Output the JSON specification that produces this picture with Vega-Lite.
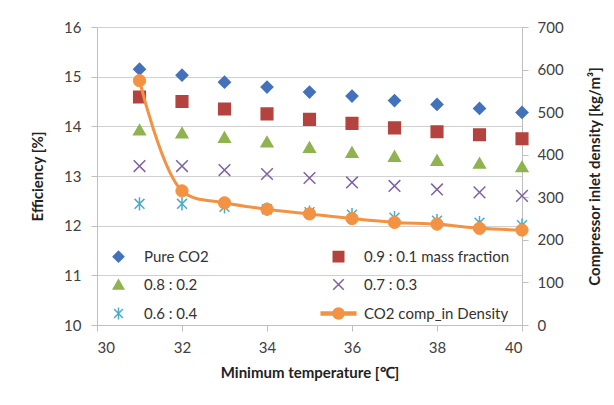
{
  "$schema": "https://vega.github.io/schema/vega-lite/v6.json",
  "width": 425,
  "height": 298,
  "autosize": {"type": "none"},
  "padding": {"left": 97, "top": 27, "right": 92, "bottom": 80},
  "background": "white",
  "config": {
    "font": "Lato",
    "view": {"stroke": null},
    "axis": {
      "labelFont": "Lato",
      "labelFontSize": 15,
      "labelColor": "#404040",
      "titleFont": "Lato",
      "titleFontSize": 15,
      "titleFontWeight": "bold",
      "titleColor": "#222222",
      "domainColor": "#bfbfbf",
      "tickColor": "#bfbfbf",
      "gridColor": "#d0d0d0",
      "tickSize": 6,
      "labelPadding": 9
    },
    "legend": {
      "orient": "none",
      "direction": "horizontal",
      "legendX": 14,
      "legendY": 222,
      "columns": 2,
      "padding": 0,
      "symbolSize": 110,
      "symbolStrokeWidth": 1.5,
      "labelFont": "Lato",
      "labelFontSize": 15,
      "labelColor": "#333333",
      "labelOffset": 18,
      "columnPadding": 109,
      "rowPadding": 11
    }
  },
  "datasets": {
    "eff": [
      {"T": 31, "series": "Pure CO2", "eff": 15.15},
      {"T": 32, "series": "Pure CO2", "eff": 15.03},
      {"T": 33, "series": "Pure CO2", "eff": 14.89},
      {"T": 34, "series": "Pure CO2", "eff": 14.79},
      {"T": 35, "series": "Pure CO2", "eff": 14.69},
      {"T": 36, "series": "Pure CO2", "eff": 14.61},
      {"T": 37, "series": "Pure CO2", "eff": 14.52},
      {"T": 38, "series": "Pure CO2", "eff": 14.44},
      {"T": 39, "series": "Pure CO2", "eff": 14.36},
      {"T": 40, "series": "Pure CO2", "eff": 14.28},
      {"T": 31, "series": "0.9 : 0.1 mass fraction", "eff": 14.59},
      {"T": 32, "series": "0.9 : 0.1 mass fraction", "eff": 14.50},
      {"T": 33, "series": "0.9 : 0.1 mass fraction", "eff": 14.35},
      {"T": 34, "series": "0.9 : 0.1 mass fraction", "eff": 14.25},
      {"T": 35, "series": "0.9 : 0.1 mass fraction", "eff": 14.14},
      {"T": 36, "series": "0.9 : 0.1 mass fraction", "eff": 14.06},
      {"T": 37, "series": "0.9 : 0.1 mass fraction", "eff": 13.97},
      {"T": 38, "series": "0.9 : 0.1 mass fraction", "eff": 13.89},
      {"T": 39, "series": "0.9 : 0.1 mass fraction", "eff": 13.83},
      {"T": 40, "series": "0.9 : 0.1 mass fraction", "eff": 13.75},
      {"T": 31, "series": "0.8 : 0.2", "eff": 13.93},
      {"T": 32, "series": "0.8 : 0.2", "eff": 13.87},
      {"T": 33, "series": "0.8 : 0.2", "eff": 13.78},
      {"T": 34, "series": "0.8 : 0.2", "eff": 13.69},
      {"T": 35, "series": "0.8 : 0.2", "eff": 13.58},
      {"T": 36, "series": "0.8 : 0.2", "eff": 13.48},
      {"T": 37, "series": "0.8 : 0.2", "eff": 13.40},
      {"T": 38, "series": "0.8 : 0.2", "eff": 13.32},
      {"T": 39, "series": "0.8 : 0.2", "eff": 13.26},
      {"T": 40, "series": "0.8 : 0.2", "eff": 13.19},
      {"T": 31, "series": "0.7 : 0.3", "eff": 13.20},
      {"T": 32, "series": "0.7 : 0.3", "eff": 13.20},
      {"T": 33, "series": "0.7 : 0.3", "eff": 13.12},
      {"T": 34, "series": "0.7 : 0.3", "eff": 13.04},
      {"T": 35, "series": "0.7 : 0.3", "eff": 12.96},
      {"T": 36, "series": "0.7 : 0.3", "eff": 12.87},
      {"T": 37, "series": "0.7 : 0.3", "eff": 12.80},
      {"T": 38, "series": "0.7 : 0.3", "eff": 12.73},
      {"T": 39, "series": "0.7 : 0.3", "eff": 12.67},
      {"T": 40, "series": "0.7 : 0.3", "eff": 12.60},
      {"T": 31, "series": "0.6 : 0.4", "eff": 12.44},
      {"T": 32, "series": "0.6 : 0.4", "eff": 12.44},
      {"T": 33, "series": "0.6 : 0.4", "eff": 12.38},
      {"T": 34, "series": "0.6 : 0.4", "eff": 12.33},
      {"T": 35, "series": "0.6 : 0.4", "eff": 12.27},
      {"T": 36, "series": "0.6 : 0.4", "eff": 12.22},
      {"T": 37, "series": "0.6 : 0.4", "eff": 12.16},
      {"T": 38, "series": "0.6 : 0.4", "eff": 12.10},
      {"T": 39, "series": "0.6 : 0.4", "eff": 12.06},
      {"T": 40, "series": "0.6 : 0.4", "eff": 12.01}
    ],
    "dens": [
      {"T": 31, "series": "CO2 comp_in Density", "density": 574},
      {"T": 32, "series": "CO2 comp_in Density", "density": 315},
      {"T": 33, "series": "CO2 comp_in Density", "density": 287},
      {"T": 34, "series": "CO2 comp_in Density", "density": 272},
      {"T": 35, "series": "CO2 comp_in Density", "density": 261},
      {"T": 36, "series": "CO2 comp_in Density", "density": 250},
      {"T": 37, "series": "CO2 comp_in Density", "density": 241},
      {"T": 38, "series": "CO2 comp_in Density", "density": 237},
      {"T": 39, "series": "CO2 comp_in Density", "density": 227},
      {"T": 40, "series": "CO2 comp_in Density", "density": 223}
    ]
  },
  "layer": [
    {
      "data": {"name": "eff"},
      "mark": {"type": "point", "filled": true, "opacity": 1, "size": 135, "strokeWidth": 1.5},
      "encoding": {
        "x": {
          "field": "T", "type": "quantitative",
          "scale": {"domain": [30, 40], "nice": false, "zero": false},
          "axis": {"values": [30, 32, 34, 36, 38, 40], "title": "Minimum temperature [℃]", "grid": false, "titlePadding": 10}
        },
        "y": {
          "field": "eff", "type": "quantitative",
          "scale": {"domain": [10, 16], "nice": false, "zero": false},
          "axis": {"values": [10, 11, 12, 13, 14, 15, 16], "title": "Efficiency [%]", "grid": true, "labelPadding": 10, "titlePadding": 18}
        },
        "shape": {
          "field": "series", "type": "nominal",
          "scale": {
            "domain": ["Pure CO2", "0.9 : 0.1 mass fraction", "0.8 : 0.2", "0.7 : 0.3", "0.6 : 0.4", "CO2 comp_in Density"],
            "range": ["diamond", "square", "triangle-up", "M-1,-1L1,1M-1,1L1,-1", "M-0.85,-0.85L0.85,0.85M-0.85,0.85L0.85,-0.85M0,-1.15L0,1.15", "M-3.3,-0.3L3.3,-0.3L3.3,0.3L-3.3,0.3Z M1.05,0A1.05,1.05,0,1,1,-1.05,0A1.05,1.05,0,1,1,1.05,0Z"]
          },
          "legend": {"title": null}
        },
        "fill": {
          "field": "series", "type": "nominal",
          "scale": {
            "domain": ["Pure CO2", "0.9 : 0.1 mass fraction", "0.8 : 0.2", "0.7 : 0.3", "0.6 : 0.4", "CO2 comp_in Density"],
            "range": ["#4472BA", "#B4433F", "#8FB34F", "transparent", "transparent", "#F29243"]
          },
          "legend": {"title": null}
        },
        "stroke": {
          "field": "series", "type": "nominal",
          "scale": {
            "domain": ["Pure CO2", "0.9 : 0.1 mass fraction", "0.8 : 0.2", "0.7 : 0.3", "0.6 : 0.4", "CO2 comp_in Density"],
            "range": ["#4472BA", "#B4433F", "#8FB34F", "#7E62A2", "#4BACC6", "#F29243"]
          },
          "legend": {"title": null}
        }
      }
    },
    {
      "data": {"name": "dens"},
      "encoding": {
        "x": {"field": "T", "type": "quantitative"},
        "y": {
          "field": "density", "type": "quantitative",
          "scale": {"domain": [0, 700], "nice": false},
          "axis": {"orient": "right", "values": [0, 100, 200, 300, 400, 500, 600, 700], "title": "Compressor inlet density [kg/m³]", "grid": false, "labelPadding": 9, "titlePadding": 39, "titleAngle": -90}
        }
      },
      "layer": [
        {"mark": {"type": "line", "interpolate": "catmull-rom", "color": "#F29243", "strokeWidth": 3}},
        {
          "mark": {"type": "point", "filled": true, "shape": "circle", "size": 150, "opacity": 1, "strokeWidth": 1},
          "encoding": {
            "fill": {"field": "series", "type": "nominal", "legend": {"title": null}},
            "stroke": {"field": "series", "type": "nominal", "legend": {"title": null}}
          }
        }
      ]
    }
  ],
  "resolve": {"scale": {"y": "independent"}}
}
